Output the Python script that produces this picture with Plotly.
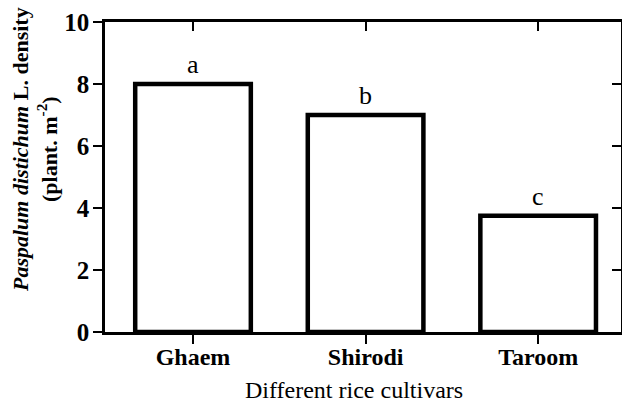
import plotly.graph_objects as go

categories = ["Ghaem", "Shirodi", "Taroom"]
density = [8.0, 7.0, 3.75]
letters = ["a", "b", "c"]
y_ticks = [0, 2, 4, 6, 8, 10]

FONT = "Liberation Serif"

fig = go.Figure()
fig.add_trace(go.Bar(
    x=categories, y=density, width=0.67,
    marker=dict(color="white", line=dict(color="black", width=4.5)),
    showlegend=False, hoverinfo="skip",
))
# invisible trace for secondary axes
fig.add_trace(go.Scatter(x=categories, y=density, xaxis="x2", yaxis="y2",
                         mode="markers", marker=dict(opacity=0), showlegend=False,
                         hoverinfo="skip"))

for c, v, l in zip(categories, density, letters):
    fig.add_annotation(x=c, y=v, text=l, showarrow=False, yanchor="bottom",
                       yshift=3, font=dict(family=FONT, size=26, color="black"))

xr = [-0.51, 2.48]
common = dict(showgrid=False, zeroline=False, automargin=False, showline=True,
              linecolor="black", linewidth=2.5, ticklen=9, tickwidth=2, tickcolor="black")
fig.update_layout(
    template="none",
    width=622, height=403,
    margin=dict(l=105, r=1, t=22, b=71, autoexpand=False),
    plot_bgcolor="white", paper_bgcolor="white",
    font=dict(family=FONT, color="black"),
    xaxis=dict(type="category", range=xr, ticks="outside", ticklabelstandoff=-8,
               tickfont=dict(family=FONT, size=24, color="black"),
               tickvals=categories, ticktext=[f"<b>{c}</b>" for c in categories], **common),
    yaxis=dict(range=[0, 10], tickvals=y_ticks, ticktext=[f"<b>{t}</b>" for t in y_ticks],
               ticks="outside", ticklabelstandoff=-1,
               tickfont=dict(family=FONT, size=25, color="black"), **common),
    xaxis2=dict(type="category", range=xr, overlaying="x", side="top", ticks="inside",
                showticklabels=False, tickvals=categories, **common),
    yaxis2=dict(range=[0, 10], overlaying="y", side="right", ticks="inside",
                showticklabels=False, tickvals=[2, 4, 6, 8], **common),
)

fig.add_annotation(xref="paper", yref="paper", x=(35 - 105) / 516, y=(332 - 150) / 310,
                   text="<b><i>Paspalum distichum</i> L. density</b><br><b>(plant. m<sup>-2</sup>)</b>",
                   textangle=-90, showarrow=False, xanchor="center", yanchor="middle",
                   font=dict(family=FONT, size=22, color="black"))
fig.add_annotation(xref="paper", yref="paper", x=(354 - 105) / 516, y=(332 - 390) / 310,
                   text="Different rice cultivars", showarrow=False,
                   xanchor="center", yanchor="middle",
                   font=dict(family=FONT, size=24, color="black"))

fig.write_html("out.html", config={"displayModeBar": False},
               post_script="document.body.style.margin='0';")
